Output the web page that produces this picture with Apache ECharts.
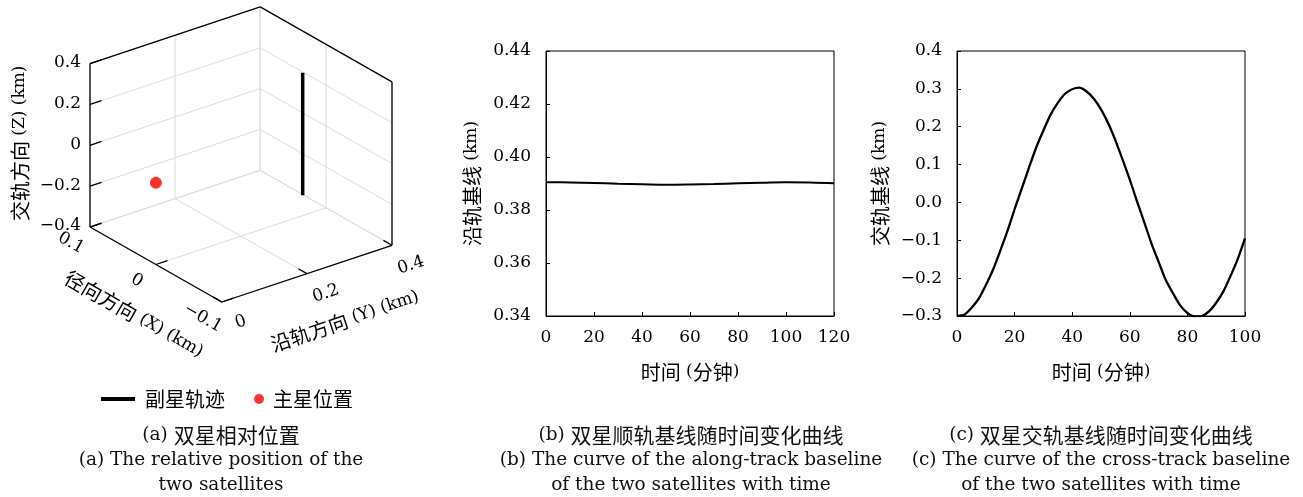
<!DOCTYPE html>
<html><head><meta charset="utf-8">
<script src="https://cdn.jsdelivr.net/npm/echarts@6/dist/echarts.min.js"></script>
<style>html,body{margin:0;padding:0;background:#fff}#c{width:1303px;height:497px}</style>
</head><body><div id="c"></div>
<script>
// ================= DATA =================
// (a) relative position (km)
const xRange = [-0.1, 0.1];      // 径向 X
const yRange = [0, 0.4];         // 沿轨 Y
const zRange = [-0.4, 0.4];      // 交轨 Z
const xTicks = [0.1, 0, -0.1];
const yTicks = [0, 0.2, 0.4];
const zTicks = [-0.4, -0.2, 0, 0.2, 0.4];
const trajX = [0, 0, 0, 0, 0, 0, 0];
const trajY = [0.345, 0.345, 0.345, 0.345, 0.345, 0.345, 0.345];
const trajZ = [-0.3, -0.2, -0.1, 0, 0.1, 0.2, 0.3];
const mainX = [0];
const mainY = [0];
const mainZ = [0];
// (b) along-track baseline
const timeB  = [0, 10, 20, 30, 40, 50, 60, 70, 80, 90, 100, 110, 120];
const alongB = [0.3905, 0.3904, 0.3902, 0.3899, 0.3897, 0.3895, 0.3896, 0.3898, 0.3901, 0.3903, 0.3905, 0.3904, 0.3901];
// (c) cross-track baseline
const timeC  = [0, 2.5, 5, 7.5, 10, 12.5, 15, 17.5, 20, 22.5, 25, 27.5, 30, 32.5, 35, 37.5, 40, 42.5, 45, 47.5, 50,
                52.5, 55, 57.5, 60, 62.5, 65, 67.5, 70, 72.5, 75, 77.5, 80, 82.5, 85, 87.5, 90, 92.5, 95, 97.5, 100];
const crossC = [-0.300, -0.297, -0.279, -0.255, -0.219, -0.178, -0.128, -0.076, -0.018, 0.037, 0.092, 0.145, 0.190,
                0.232, 0.263, 0.287, 0.299, 0.303, 0.293, 0.274, 0.246, 0.209, 0.164, 0.113, 0.060, 0.003, -0.052,
                -0.108, -0.157, -0.205, -0.240, -0.272, -0.292, -0.301, -0.300, -0.288, -0.265, -0.235, -0.194, -0.149, -0.095];

// texts
const T = {
  zName: '交轨方向 (Z) (km)', xName: '径向方向 (X) (km)', yName: '沿轨方向 (Y) (km)',
  s1: '副星轨迹', s2: '主星位置',
  bY: '沿轨基线 (km)', cY: '交轨基线 (km)', time: '时间 (分钟)',
  capA: ['(a) 双星相对位置', '(a) The relative position of the', 'two satellites'],
  capB: ['(b) 双星顺轨基线随时间变化曲线', '(b) The curve of the along-track baseline', 'of the two satellites with time'],
  capC: ['(c) 双星交轨基线随时间变化曲线', '(c) The curve of the cross-track baseline', 'of the two satellites with time']
};

// ================= STYLE / HELPERS =================
const LAT = 'DejaVu Serif';
const CJK = 'Noto Sans CJK SC';
const RICH = {
  c: {fontFamily: CJK, fontSize: 20, color: '#000'},
  l: {fontFamily: LAT, fontSize: 17, color: '#000'}
};
const RICHCAP = {
  c: {fontFamily: CJK, fontSize: 21, color: '#111'},
  l: {fontFamily: LAT, fontSize: 18.5, color: '#111'}
};
function mix(s) {
  const re = /[\u3000-\u9fff\uff00-\uffef]+/g;
  let out = '', last = 0, m;
  while ((m = re.exec(s)) !== null) {
    if (m.index > last) out += '{l|' + s.slice(last, m.index) + '}';
    out += '{c|' + m[0] + '}';
    last = m.index + m[0].length;
  }
  if (last < s.length) out += '{l|' + s.slice(last) + '}';
  return out;
}
function fmt(v, d) {
  if (Math.abs(v) < 1e-9) v = 0;
  const s = d == null ? String(+v.toFixed(3)) : v.toFixed(d);
  return s.replace('-', '\u2212');
}
// orthographic view of the 3D box (camera)
const VIEW = {u0: 0.4365, ux: -0.4365, uy: 0.5635, vx: 0.2542, vy: 0.1922, vz: 0.5539};
function nrm(v, r) { return (v - r[0]) / (r[1] - r[0]); }
function proj(X, Y, Z) {
  const a = nrm(X, xRange), b = nrm(Y, yRange), c = nrm(Z, zRange);
  return [VIEW.u0 + VIEW.ux * a + VIEW.uy * b, VIEW.vx * a + VIEW.vy * b + VIEW.vz * c];
}
const trajData = trajX.map((x, i) => proj(x, trajY[i], trajZ[i]));
const mainData = mainX.map((x, i) => proj(x, mainY[i], mainZ[i]));

function renderBox(params, api) {
  const ch = [];
  const X0 = xRange[0], X1 = xRange[1], Y0 = yRange[0], Y1 = yRange[1], Z0 = zRange[0], Z1 = zRange[1];
  function seg(p, q, stroke, w) {
    const a = api.coord(proj(p[0], p[1], p[2])), b = api.coord(proj(q[0], q[1], q[2]));
    ch.push({type: 'line', shape: {x1: a[0], y1: a[1], x2: b[0], y2: b[1]}, style: {stroke: stroke, lineWidth: w}});
  }
  const G = '#dcdcdc';
  // back-left wall (X = X1)
  zTicks.forEach(z => seg([X1, Y0, z], [X1, Y1, z], G, 1));
  yTicks.forEach(y => seg([X1, y, Z0], [X1, y, Z1], G, 1));
  // back-right wall (Y = Y1)
  zTicks.forEach(z => seg([X1, Y1, z], [X0, Y1, z], G, 1));
  xTicks.forEach(x => seg([x, Y1, Z0], [x, Y1, Z1], G, 1));
  // floor (Z = Z0)
  xTicks.forEach(x => seg([x, Y0, Z0], [x, Y1, Z0], G, 1));
  yTicks.forEach(y => seg([X1, y, Z0], [X0, y, Z0], G, 1));
  // outline
  const K = '#000', W = 1.3;
  seg([X1, Y0, Z0], [X0, Y0, Z0], K, W);
  seg([X0, Y0, Z0], [X0, Y1, Z0], K, W);
  seg([X0, Y1, Z0], [X0, Y1, Z1], K, W);
  seg([X0, Y1, Z1], [X1, Y1, Z1], K, W);
  seg([X1, Y1, Z1], [X1, Y0, Z1], K, W);
  seg([X1, Y0, Z1], [X1, Y0, Z0], K, W);
  // ticks
  const tY = 0.027 * (Y1 - Y0) / 0.4, tX = 0.013 * (X1 - X0) / 0.2;
  zTicks.forEach(z => seg([X1, Y0, z], [X1, Y0 + tY, z], K, W));
  xTicks.forEach(x => seg([x, Y0, Z0], [x, Y0 + tY, Z0], K, W));
  yTicks.forEach(y => seg([X0, y, Z0], [X0 + tX, y, Z0], K, W));
  // labels
  function txt(p, dx, dy, text, rot, align, rich) {
    const a = api.coord(proj(p[0], p[1], p[2]));
    const el = {type: 'text', x: a[0] + dx, y: a[1] + dy, rotation: rot || 0,
      style: {text: text, align: align || 'center', verticalAlign: 'middle', fill: '#000',
        fontFamily: LAT, fontSize: 17}};
    if (rich) el.style.rich = RICH;
    ch.push(el);
  }
  zTicks.forEach(z => txt([X1, Y0, z], -9, -1, fmt(z), 0, 'right'));
  xTicks.forEach(x => txt([x, Y0, Z0], -19, 16, fmt(x), -0.518));
  yTicks.forEach(y => txt([X0, y, Z0], 19, 20, fmt(y), 0.321));
  txt([X1, Y0, (Z0 + Z1) / 2], -70, -2, mix(T.zName), Math.PI / 2, 'center', true);
  txt([(X0 + X1) / 2, Y0, Z0], -22, 50, mix(T.xName), -0.518, 'center', true);
  txt([X0, (Y0 + Y1) / 2, Z0], 38, 47, mix(T.yName), 0.321, 'center', true);
  return {type: 'group', children: ch};
}

// ================= CHART =================
const chart = echarts.init(document.getElementById('c'), null, {renderer: 'canvas'});
const axisCommon = {
  axisLine: {show: true, onZero: false, lineStyle: {color: '#000', width: 1}},
  axisTick: {show: true, inside: true, length: 4, lineStyle: {color: '#000', width: 1}},
  splitLine: {show: false},
  nameLocation: 'middle',
  nameTextStyle: {rich: RICH}
};
const option = {
  animation: false,
  backgroundColor: '#fff',
  grid: [
    {left: 90, top: 7, width: 302, height: 295, show: false},
    {left: 546, top: 51, right: 469, bottom: 181, show: true, borderColor: '#000', borderWidth: 1},
    {left: 957, top: 51, right: 58, bottom: 181, show: true, borderColor: '#000', borderWidth: 1}
  ],
  xAxis: [
    {gridIndex: 0, type: 'value', min: 0, max: 1, show: false},
    Object.assign({}, axisCommon, {gridIndex: 1, type: 'value', min: 0, max: 120, interval: 20,
      name: mix(T.time), nameGap: 46,
      axisLabel: {fontFamily: LAT, fontSize: 17, color: '#000', margin: 13}}),
    Object.assign({}, axisCommon, {gridIndex: 2, type: 'value', min: 0, max: 100, interval: 20,
      name: mix(T.time), nameGap: 46,
      axisLabel: {fontFamily: LAT, fontSize: 17, color: '#000', margin: 13}})
  ],
  yAxis: [
    {gridIndex: 0, type: 'value', min: 0, max: 1, show: false},
    Object.assign({}, axisCommon, {gridIndex: 1, type: 'value', min: 0.34, max: 0.44, interval: 0.02,
      name: mix(T.bY), nameGap: 64,
      axisLabel: {fontFamily: LAT, fontSize: 17, color: '#000', margin: 15, formatter: v => fmt(v, 2)}}),
    Object.assign({}, axisCommon, {gridIndex: 2, type: 'value', min: -0.3, max: 0.4, interval: 0.1,
      name: mix(T.cY), nameGap: 67,
      axisLabel: {fontFamily: LAT, fontSize: 17, color: '#000', margin: 15, formatter: v => fmt(v, 1)}})
  ],
  legend: [
    {data: [{name: T.s1, icon: 'rect'}], left: 96, top: 384, itemWidth: 34, itemHeight: 4, selectedMode: false,
      textStyle: {fontFamily: CJK, fontSize: 20, color: '#000', padding: [0, 0, 0, 5]}},
    {data: [{name: T.s2, icon: 'circle'}], left: 249, top: 384, itemWidth: 10, itemHeight: 10, selectedMode: false,
      textStyle: {fontFamily: CJK, fontSize: 20, color: '#000', padding: [0, 0, 0, 4]}}
  ],
  series: [
    {type: 'custom', name: 'box', xAxisIndex: 0, yAxisIndex: 0, renderItem: renderBox, data: [[0, 0]], silent: true, z: 1},
    {type: 'line', name: T.s1, xAxisIndex: 0, yAxisIndex: 0, data: trajData, symbol: 'none',
      lineStyle: {color: '#000', width: 3.5}, itemStyle: {color: '#000'}, z: 3},
    {type: 'scatter', name: T.s2, xAxisIndex: 0, yAxisIndex: 0, data: mainData, symbolSize: 12,
      itemStyle: {color: '#ff0000'}, z: 3},
    {type: 'line', name: 'along', xAxisIndex: 1, yAxisIndex: 1, data: timeB.map((t, i) => [t, alongB[i]]),
      symbol: 'none', smooth: 0.4, lineStyle: {color: '#000', width: 2}},
    {type: 'line', name: 'cross', xAxisIndex: 2, yAxisIndex: 2, data: timeC.map((t, i) => [t, crossC[i]]),
      symbol: 'none', smooth: 0.25, lineStyle: {color: '#000', width: 2.3}}
  ],
  graphic: []
};
const caps = [[221, T.capA], [691, T.capB], [1101, T.capC]];
caps.forEach(([cx, lines]) => {
  lines.forEach((s, i) => {
    option.graphic.push({type: 'text', x: cx, y: 435 + 25 * i, silent: true,
      style: {text: mix(s), rich: RICHCAP, align: 'center', verticalAlign: 'middle', fill: '#111'}});
  });
});
chart.setOption(option);
</script>
</body></html>
